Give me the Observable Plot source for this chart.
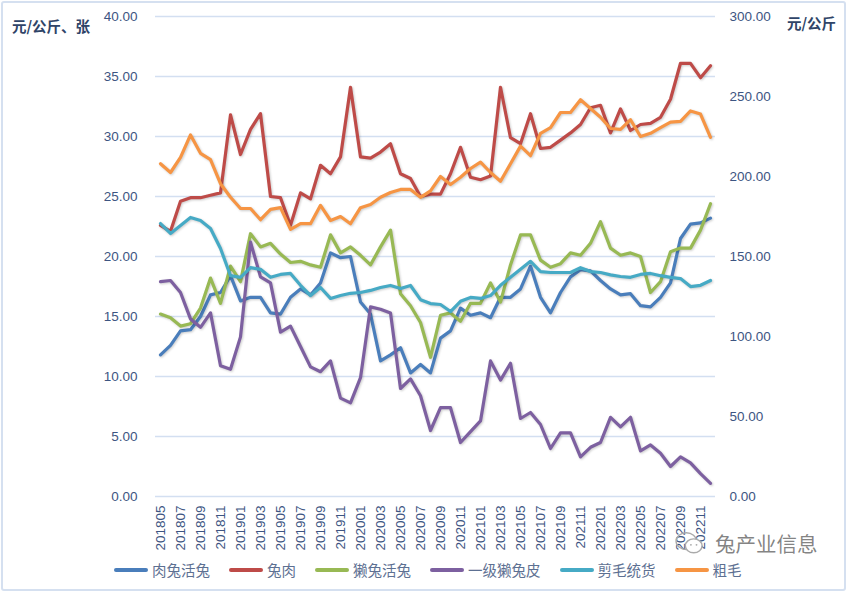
<!DOCTYPE html>
<html><head><meta charset="utf-8">
<script src="https://cdn.jsdelivr.net/npm/d3@7"></script>
<script src="https://cdn.jsdelivr.net/npm/@observablehq/plot@0.6"></script>
<style>
body{margin:0;background:#fff;}
#wrap{position:relative;width:847px;height:593px;overflow:hidden;background:#fff;}
#frame{position:absolute;left:1px;top:1px;width:845px;height:590px;box-sizing:border-box;border:2px solid #d5e0f0;border-radius:3px;pointer-events:none;}
#chart{position:absolute;left:0;top:0;}
.ttl{position:absolute;font-family:"Noto Sans CJK SC",sans-serif;font-size:14.5px;font-weight:600;color:#2f4468;white-space:nowrap;}
#legend{position:absolute;left:114px;top:562px;display:flex;gap:19px;align-items:center;font-family:"Noto Sans CJK SC",sans-serif;font-size:14.5px;line-height:16px;color:#5d7092;}
#legend .it{display:flex;align-items:center;gap:4px;}
#legend .sw{width:34px;height:3.5px;border-radius:2px;}
#wm{position:absolute;left:673px;top:530px;display:flex;align-items:center;gap:8px;font-family:"Noto Sans CJK SC",sans-serif;font-size:20.5px;line-height:20px;color:rgba(110,110,110,0.85);}
svg line, svg path{shape-rendering:geometricPrecision;}
#chart g[aria-label="line"] path{filter:drop-shadow(1px 1.5px 1px rgba(0,0,0,0.2));}
</style>
</head><body>
<div id="wrap">
  <div id="chart"></div>
  <div class="ttl" style="left:12px;top:15px;">元/公斤、张</div>
  <div class="ttl" style="left:787px;top:12px;">元/公斤</div>
  <div id="legend"></div>
  <div id="wm"><svg width="34" height="26" viewBox="0 0 34 28"><ellipse cx="13" cy="12" rx="11" ry="9" fill="none" stroke="#aaa" stroke-width="1.5"/><ellipse cx="21" cy="17" rx="9" ry="7.5" fill="#fff" stroke="#aaa" stroke-width="1.5"/><circle cx="18" cy="16" r="1" fill="#aaa"/><circle cx="24" cy="16" r="1" fill="#aaa"/></svg><span>兔产业信息</span></div>
  <div id="frame"></div>
</div>
<script>
const months = ["201805","201806","201807","201808","201809","201810","201811","201812",
"201901","201902","201903","201904","201905","201906","201907","201908","201909","201910","201911","201912",
"202001","202002","202003","202004","202005","202006","202007","202008","202009","202010","202011","202012",
"202101","202102","202103","202104","202105","202106","202107","202108","202109","202110","202111","202112",
"202201","202202","202203","202204","202205","202206","202207","202208","202209","202210","202211","202212"];

const xTickLabels = ["201805","201807","201809","201811","201901","201903","201905","201907","201909","201911",
"202001","202003","202005","202007","202009","202011","202101","202103","202105","202107","202109","202111",
"202201","202203","202205","202207","202209","202211"];

const leftTicks = [0,5,10,15,20,25,30,35,40];
const rightTicks = [0,50,100,150,200,250,300];

const seriesNames = ["肉兔活兔","兔肉","獭兔活兔","一级獭兔皮","剪毛统货","粗毛"];
const seriesColors = ["#4A7EBB","#BE4B48","#98B954","#7D60A0","#46AAC5","#F69544"];
const secondaryAxis = ["剪毛统货","粗毛"];

// left axis (元/公斤、张)
const meatRabbit = [11.8,12.6,13.8,13.9,15.0,16.8,17.0,18.4,16.3,16.6,
 16.6,15.3,15.2,16.6,17.3,16.8,17.8,20.3,19.9,20.0,
 16.2,15.2,11.3,11.8,12.4,10.3,11.0,10.3,13.2,13.8,
 15.7,15.1,15.3,14.9,16.6,16.6,17.3,19.2,16.6,15.3,
 17.0,18.3,18.9,18.8,18.0,17.3,16.8,16.9,15.9,15.8,
 16.6,17.8,21.5,22.7,22.8,23.2];
const rabbitMeat = [22.6,22.1,24.6,24.9,24.9,25.1,25.3,31.8,28.5,30.6,
 31.9,25.0,24.9,22.6,25.3,24.8,27.6,26.9,28.3,34.1,
 28.3,28.2,28.7,29.4,26.9,26.5,25.0,25.2,25.2,26.9,
 29.1,26.6,26.4,26.7,34.1,29.9,29.4,31.9,29.0,29.1,
 29.7,30.3,31.0,32.4,32.6,30.3,32.3,30.5,31.0,31.1,
 31.6,33.1,36.1,36.1,34.9,35.9];
const rexRabbit = [15.2,14.9,14.2,14.4,15.7,18.2,16.1,19.2,17.9,21.9,
 20.8,21.1,20.2,19.5,19.6,19.3,19.1,21.8,20.3,20.8,
 20.1,19.3,20.8,22.2,16.9,15.9,14.5,11.6,15.1,15.3,
 14.6,16.1,16.1,17.8,16.2,19.3,21.8,21.8,19.7,19.1,
 19.4,20.3,20.1,21.1,22.9,20.7,20.1,20.3,20.0,17.0,
 17.9,20.4,20.7,20.7,22.2,24.4];
const rexPelt = [17.9,18.0,17.0,14.8,14.1,15.3,10.9,10.6,13.3,21.2,
 18.3,17.8,13.7,14.2,12.5,10.8,10.4,11.3,8.2,7.8,
 9.9,15.8,15.6,15.3,9.0,9.8,8.4,5.5,7.4,7.4,
 4.5,5.4,6.3,11.3,9.7,11.1,6.5,7.0,6.0,4.0,
 5.3,5.3,3.3,4.1,4.5,6.6,5.8,6.6,3.8,4.3,
 3.6,2.5,3.3,2.8,1.9,1.1];
// right axis (元/公斤)
const shearedWool = [170.6,164.4,169.4,174.4,172.5,167.5,155,138,137,143,
 142,137,138.8,139.4,132,125.6,130.6,123.8,125.6,127,
 127.5,128.8,130.6,131.9,130,131.9,123,120.6,120,115.6,
 122,124.4,123.8,125.6,132,137,142,147,140.6,140,
 140,140,143,140.6,140,138.5,137.5,137,138.8,139.4,
 138,137,136.2,131.2,132,135];
const coarseWool = [208,202.5,212,226,214.5,210.5,195.5,187,180,180,
 173,179.5,180.5,167,170.5,170.5,182,172.5,175,170.5,
 180.5,182.5,187,190,191.9,191.9,187,191,200,195,
 199.5,205,209,202.5,197,208,219,213,227,230.5,
 240,240,248,242.5,237,230,229.5,235.5,225,227,
 230.5,234,234.5,241,239,224.5];

const seriesValues = [meatRabbit, rabbitMeat, rexRabbit, rexPelt, shearedWool, coarseWool];
const ratio = rightTicks[rightTicks.length-1] / leftTicks[leftTicks.length-1];

const rows = [];
seriesNames.forEach((name, si) => {
  const sec = secondaryAxis.includes(name);
  seriesValues[si].forEach((v, i) => {
    rows.push({series: name, month: months[i], value: sec ? v / ratio : v});
  });
});

const chart = Plot.plot({
  width: 847,
  height: 560,
  marginLeft: 155,
  marginRight: 132,
  marginTop: 16,
  marginBottom: 64,
  style: {fontFamily: "'Liberation Sans', Arial, sans-serif", fontSize: "13.5px", color: "#3d5582", background: "transparent", overflow: "visible"},
  x: {type: "point", domain: months, padding: 0.5, label: null},
  y: {domain: [leftTicks[0], leftTicks[leftTicks.length-1]], label: null},
  color: {domain: seriesNames, range: seriesColors},
  marks: [
    Plot.gridY(leftTicks, {stroke: "#d3dff1", strokeOpacity: 1, strokeWidth: 1.5}),
    Plot.axisY(leftTicks, {anchor: "left", tickSize: 0, tickPadding: 18, tickFormat: d => d.toFixed(2), label: null}),
    Plot.axisY(rightTicks.map(v => v / ratio), {anchor: "right", tickSize: 0, tickPadding: 14, tickFormat: d => (d * ratio).toFixed(2), label: null}),
    Plot.axisX(xTickLabels, {tickSize: 0, tickRotate: -90, tickPadding: 9, label: null}),
    Plot.line(rows, {x: "month", y: "value", z: "series", stroke: "series", strokeWidth: 3.2, strokeLinejoin: "round", strokeLinecap: "round"})
  ]
});
document.getElementById("chart").appendChild(chart);

const legend = document.getElementById("legend");
seriesNames.forEach((name, i) => {
  const it = document.createElement("div");
  it.className = "it";
  const sw = document.createElement("span");
  sw.className = "sw";
  sw.style.background = seriesColors[i];
  const tx = document.createElement("span");
  tx.textContent = name;
  it.appendChild(sw); it.appendChild(tx);
  legend.appendChild(it);
});
</script>
</body></html>
